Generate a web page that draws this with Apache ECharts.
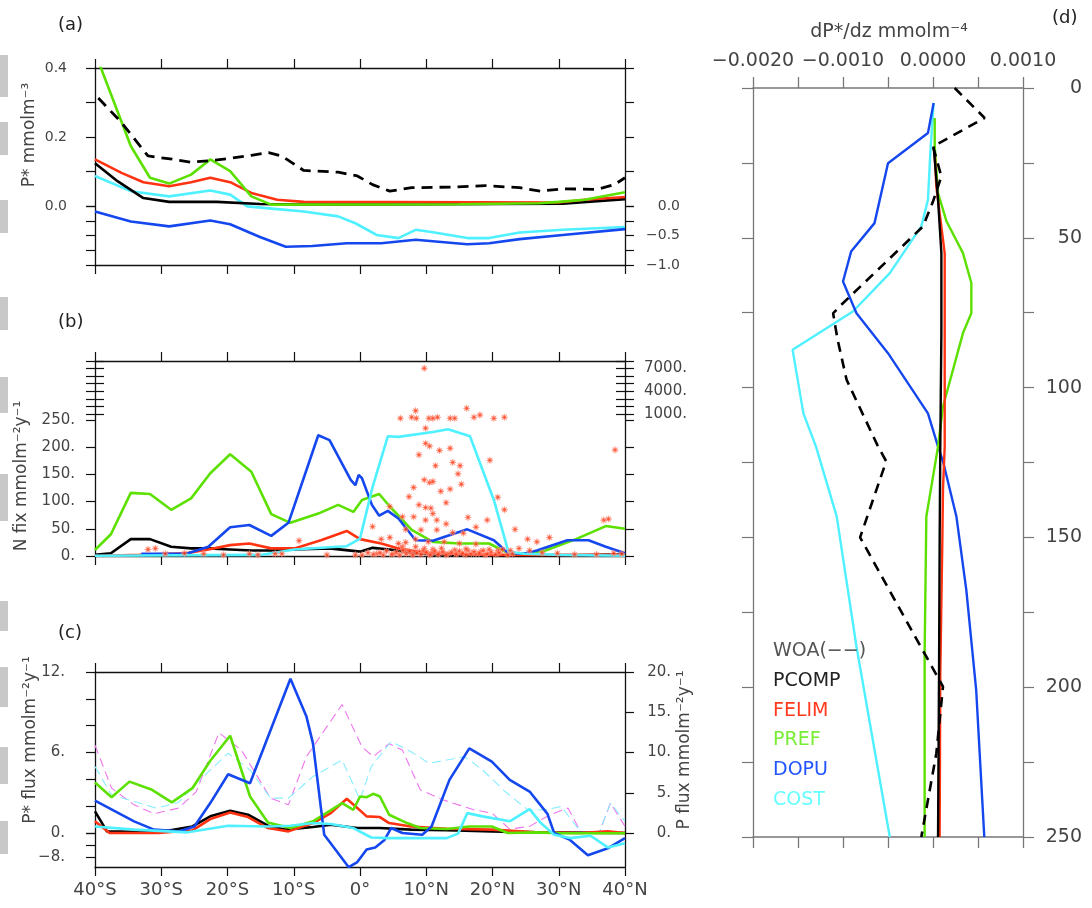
<!DOCTYPE html>
<html>
<head>
<meta charset="utf-8">
<title>P* / N fix / P flux</title>
<script src="https://cdn.jsdelivr.net/npm/echarts@6/dist/echarts.min.js"></script>
<style>
html, body { margin: 0; padding: 0; background: #fff; }
#chart { width: 1092px; height: 908px; }
</style>
</head>
<body>
<div id="chart"></div>
<script>
'use strict';

// latitude ticks and their labels
var latTicks = [-40, -30, -20, -10, 0, 10, 20, 30, 40];
var latLabels = ['40°S', '30°S', '20°S', '10°S', '0°', '10°N', '20°N', '30°N', '40°N'];

// model run names (legend of panel d)
var runNames = ['WOA(−−)', 'PCOMP', 'FELIM', 'PREF', 'DOPU', 'COST'];

// (a) P* mmol m-3, [lat, value]
var aWOA = [[-39.5, 0.313], [-36, 0.242], [-32, 0.145], [-28.1, 0.135], [-25.5, 0.127], [-22.9, 0.131], [-19.6, 0.138], [-16.4, 0.147], [-13.8, 0.155], [-11.8, 0.145], [-8.5, 0.103], [-3.3, 0.098], [-0.4, 0.087], [1.9, 0.062], [4.5, 0.043], [7.8, 0.053], [14.3, 0.055], [18.9, 0.059], [24.1, 0.053], [27.3, 0.043], [30.6, 0.05], [35.8, 0.048], [38.4, 0.062], [40, 0.082]];
var aPCOMP = [[-40, 0.124], [-36.6, 0.072], [-32.7, 0.023], [-28.8, 0.012], [-21.6, 0.012], [-15.1, 0.006], [-8.5, 0.004], [30.6, 0.007], [40, 0.02]];
var aFELIM = [[-40, 0.135], [-36, 0.096], [-32.7, 0.069], [-28.8, 0.057], [-25.5, 0.069], [-22.6, 0.082], [-19.6, 0.069], [-16.4, 0.038], [-12.5, 0.018], [-8.5, 0.012], [30, 0.01], [33.9, 0.018], [40, 0.026]];
var aPREF = [[-40, 0.445], [-34.6, 0.174], [-31.7, 0.082], [-28.8, 0.065], [-25.5, 0.091], [-22.6, 0.135], [-19.6, 0.101], [-16.4, 0.028], [-13.4, 0.004], [15, 0.005], [27, 0.008], [30, 0.012], [33.9, 0.018], [40, 0.04]];
var aDOPU = [[-40, -0.016], [-34.6, -0.045], [-28.8, -0.059], [-22.6, -0.042], [-19.6, -0.053], [-15.1, -0.09], [-11.2, -0.118], [-7.2, -0.116], [-2, -0.108], [3.2, -0.108], [8.4, -0.098], [16.2, -0.111], [19.5, -0.108], [24.1, -0.096], [30.6, -0.084], [40, -0.067]];
var aCOST = [[-40, 0.087], [-34.6, 0.043], [-28.8, 0.028], [-22.6, 0.045], [-19.6, 0.033], [-17, -0.001], [-12.5, -0.009], [-8.5, -0.016], [-3.3, -0.03], [-0.7, -0.05], [2.5, -0.084], [5.8, -0.093], [8.4, -0.069], [11, -0.076], [16.2, -0.093], [19.5, -0.093], [24.1, -0.077], [30.6, -0.069], [40, -0.061]];

// (b) N fix mmol m-2 y-1
var bPCOMP = [[-40, 2], [-37.6, 5], [-34.6, 31], [-31.7, 31], [-28.5, 17], [-25.5, 14], [-22.9, 14], [-19.6, 12], [-16.4, 10], [-13.4, 10], [-9.9, 12], [-4.6, 14], [0, 8], [1.9, 15], [4.5, 12], [8.4, 5], [13.6, 1], [22.4, 0], [30.6, 1], [40, 3]];
var bFELIM = [[-40, 0], [-33.3, 2], [-26.2, 5], [-22.9, 12], [-19.6, 20], [-16.7, 23], [-13.4, 14], [-9.9, 14], [-5.9, 29], [-2, 46], [0, 31], [3.2, 23], [5.8, 14], [9.7, 6], [13.6, 4], [20.2, 2], [30.6, 2], [40, 2]];
var bPREF = [[-40, 11], [-37.6, 40], [-34.6, 116], [-31.7, 114], [-28.5, 85], [-25.5, 106], [-22.6, 152], [-19.6, 187], [-16.4, 155], [-13.4, 77], [-10.5, 61], [-6.3, 78], [-3.3, 94], [-1, 81], [0.3, 103], [2.9, 114], [4.5, 91], [7.8, 48], [11, 26], [15, 23], [19.5, 23], [22.4, 5], [24.7, 4], [28, 10], [32.6, 31], [37.1, 55], [40, 50]];
var bDOPU = [[-33, 4], [-26.2, 4], [-22.9, 17], [-19.6, 53], [-16.7, 57], [-13.4, 37], [-10.8, 61], [-6.3, 222], [-4.6, 213], [-1.4, 140], [-0.7, 130], [-0.2, 149], [0.3, 143], [1.8, 94], [2.9, 74], [4.2, 83], [5.8, 69], [8.4, 29], [11, 28], [16.2, 49], [20.2, 29], [22.4, 5], [24.7, 4], [26.7, 10], [31.3, 29], [34.5, 29], [37.1, 17], [40, 5]];
var bCOST = [[-40, 0.5], [-15, 2], [-9.9, 12], [-4.6, 16], [-2, 18], [0, 32], [1.9, 127], [4.2, 220], [5.8, 219], [11, 228], [13.3, 233], [16.6, 220], [20.2, 103], [22.4, 8], [24.7, 4], [30.6, 2], [40, 0.5]];
// observations up to 250, and above 250 (upper, compressed part of the axis)
var bObsLow = [[9.9, 235], [9.9, 207], [10.5, 202], [12, 194], [13.6, 198], [8.9, 186], [11.4, 166], [14, 172], [15.1, 166], [19.6, 176], [14.8, 151], [9.7, 140], [10.5, 135], [11, 137], [15.3, 132], [13.6, 123], [12.2, 119], [8.1, 126], [7.4, 109], [20.8, 108], [8.9, 94], [13, 98], [4.5, 91], [9.9, 89], [10.7, 88], [21.8, 85], [11, 78], [6.4, 72], [8.1, 72], [9.9, 66], [11.6, 66], [13, 59], [16.3, 71], [19.2, 66], [1.9, 54], [6.9, 49], [9.2, 48], [11.6, 48], [17.5, 53], [23.4, 49], [36.8, 66], [37.5, 68], [38.5, 195], [14, 43], [15.6, 42], [4.5, 34], [3.2, 31], [-9.2, 28], [25.3, 31], [26.7, 26], [28.6, 34], [8.4, 31], [10.3, 26], [12.7, 26], [15, 23], [17.5, 22], [6.9, 25], [5.8, 23], [6.4, 17], [8.4, 17], [9.7, 14], [11, 12], [12.3, 14], [14.3, 11], [16.3, 10], [18.2, 8], [19.5, 12], [20.8, 10], [22.7, 10], [24, 14], [25.6, 10], [27.5, 6], [29.8, 5], [32.4, 3], [35.7, 3], [38.3, 5], [39.5, 4], [-32, 12], [-30.9, 14], [-29.4, 4], [-26.5, 5], [-23.6, 4], [-20.6, 2], [-16.7, 4], [-15.4, 2], [-12.8, 4], [-11.8, 4], [-5, 2], [-0.7, 2], [0.3, 2], [1.2, 6], [2.5, 4], [3.5, 2], [5.1, 4], [6.7, 8], [7.7, 5], [9, 8], [10.3, 4], [11, 6], [12, 5], [13.3, 4], [14.6, 5], [15.9, 2], [17.5, 4], [18.9, 2],
	[2, 3], [3, 6], [4, 9], [4.8, 3], [5.5, 7], [6, 2], [6.5, 11], [7, 4], [7.5, 9], [8, 2], [8.6, 6], [9.2, 3], [9.6, 10], [10, 7], [10.6, 2], [11.3, 9], [11.8, 3], [12.5, 8], [13, 2], [13.8, 7], [14.5, 3], [15, 9], [15.5, 5], [16, 13], [16.8, 4], [17.2, 8], [18, 5], [18.6, 10], [19.2, 4], [19.8, 7], [20.5, 3], [21, 6], [21.5, 12], [22.3, 2], [23, 4]];
var bObsHigh = [[6.1, 477], [7.8, 610], [8.5, 477], [10.4, 477], [11, 477], [11.7, 610], [13.6, 477], [14.3, 477], [17.2, 610], [20.2, 477], [21.8, 610], [8.4, 1490], [16.1, 1810], [18.1, 917], [9.7, 7140]];

// (c) P* flux mmol m-2 y-1 (left axis)
var cPCOMP = [[-40, 1.61], [-38.2, 0.12], [-30.4, 0.05], [-25.3, 0.49], [-22.6, 1.24], [-19.6, 1.66], [-16.9, 1.36], [-13.9, 0.54], [-11.2, 0.25], [-7.1, 0.45], [-4.4, 0.62], [-0.4, 0.37], [3, 0.37], [7.7, 0.25], [13.1, 0.2], [19.9, 0.12], [26.6, 0.05], [40, 0]];
var cFELIM = [[-40, 0.87], [-37.8, 0], [-30.4, 0], [-25.3, 0.2], [-22.6, 1.04], [-19.6, 1.53], [-16.9, 1.19], [-13.9, 0.37], [-10.8, 0.12], [-7.1, 0.74], [-4.4, 1.48], [-2, 2.55], [-0.4, 1.86], [1, 1.24], [3, 1.19], [4.4, 0.74], [7.7, 0.49], [13.1, 0.32], [19.9, 0.25], [26.6, 0.05], [33.4, 0], [37.4, 0.12], [40, 0]];
var cPREF = [[-40, 3.76], [-37.5, 2.67], [-34.8, 3.83], [-31.4, 3.22], [-28.4, 2.28], [-25.3, 3.34], [-22.6, 5.39], [-19.6, 7.25], [-16.6, 2.72], [-13.9, 0.79], [-10.5, 0.37], [-7.1, 0.87], [-2.7, 2.23], [-1, 1.73], [0, 2.72], [1, 2.67], [2, 2.92], [3, 2.72], [4.4, 1.36], [7.1, 0.74], [9.1, 0.37], [13.1, 0.3], [16.5, 0.49], [19.9, 0.49], [22.3, 0], [26.6, 0.05], [30, -0.05], [33.4, -0.07], [40, -0.1]];
var cDOPU = [[-40, 2.42], [-34.1, 0.87], [-31.1, 0.25], [-27.4, 0.12], [-25, 0.49], [-22.6, 2.23], [-19.9, 4.38], [-16.6, 3.71], [-10.5, 11.5], [-8.1, 8.71], [-7.1, 6.68], [-5.4, -0.57], [-1.7, -11.4], [-0.4, -9.7], [1, -5.5], [2.3, -4.8], [3.7, -2.3], [4.7, 0.37], [6.4, 0], [9.4, -0.57], [10.8, 0.49], [13.5, 3.96], [16.5, 6.31], [19.9, 5.32], [22.6, 3.96], [25.6, 3.09], [28.3, 1.43], [29.3, 0], [31.7, -2.3], [34.4, -7.4], [37.4, -5.1], [40, -1.7]];
var cCOST = [[-40, 0.49], [-34.1, 0.25], [-26, 0.05], [-19.9, 0.54], [-13.9, 0.49], [-10.5, 0.54], [-7.1, 0.74], [-4.4, 0.67], [-1, 0.37], [1.7, -1.5], [4.4, -1.7], [9.8, -1.7], [13.1, -1.7], [14.8, -0.2], [16.2, 1.48], [18.5, 1.24], [22.6, 0.87], [25.6, 1.78], [27.3, 0.74], [29.3, -0.57], [31.7, -1.7], [34.8, -0.9], [37.4, -4.8], [40, -3.4]];
// (c) P flux mmol m-2 y-1 (right axis, dashed)
var cPfluxM = [[-40, 10.9], [-37.5, 5.57], [-34.1, 3.5], [-31.1, 2.39], [-27.4, 3.09], [-24.7, 5.15], [-21.3, 12.45], [-17.9, 10.3], [-13.5, 4.33], [-10.8, 3.5], [-8.1, 9.48], [-2.7, 15.96], [0.3, 10.7], [2, 9.48], [4.4, 11.1], [6.4, 10.3], [9.1, 5.36], [12.5, 4.12], [17.2, 2.89], [19.9, 2.47], [22.6, 0.49], [25.6, 0.82], [28.7, 2.27], [31.4, 3.09], [33.4, 0], [36.1, 0], [37.8, 3.71], [40, 0.82]];
var cPfluxC = [[-40, 8.25], [-37.5, 4.74], [-34.1, 3.92], [-30.7, 3.09], [-27.4, 3.79], [-24.7, 6.19], [-19.9, 9.9], [-16.6, 7.84], [-13.5, 4.33], [-10.8, 4.33], [-7.1, 7.01], [-2.7, 9.07], [0, 4.12], [1.7, 8.25], [4.7, 11.34], [7.7, 10.1], [10.4, 8.66], [13.1, 9.07], [15.8, 9.48], [18.5, 7.84], [21.9, 5.15], [25.3, 2.89], [28, 2.89], [30.4, 3.3], [33.4, 0], [36.1, 0], [37.8, 3.71], [40, 1.44]];

// (d) dP*/dz mmol m-4 against depth m, [value, depth]
var dWOA = [[0.000241, 0], [0.000574, 10], [0, 19.5], [0.000093, 29.5], [0, 37.9], [-0.000111, 46.2], [-0.00102, 72.4], [-0.00111, 75.2], [-0.00106, 84], [-0.00096, 97.4], [-0.00061, 119.7], [-0.00052, 124.6], [-0.00081, 150], [-0.00026, 179.8], [0.000111, 199.8], [0.000037, 222.1], [-0.00013, 250]];
var dPCOMP = [[0.000007, 19.5], [0.000056, 37.3], [0.000093, 55.1], [0.000093, 81.8], [0.000081, 119.7], [0.000074, 150.8], [0.000067, 195.4], [0.000056, 250]];
var dFELIM = [[0.000019, 21.7], [0.000037, 32.9], [0.00013, 55.1], [0.00013, 81.8], [0.00013, 119.7], [0.000111, 134], [0.000104, 150.8], [0.000081, 195.4], [0.000074, 250]];
var dPREF = [[0.000019, 10], [0.000019, 19.5], [0.000056, 35.1], [0.00015, 44.5], [0.000333, 55.1], [0.000426, 65.1], [0.000426, 75.2], [0.000333, 81.8], [0.000111, 106.3], [0.000056, 119.7], [-0.000074, 143], [-0.000093, 188.7], [-0.000093, 250]];
var dDOPU = [[0.000007, 5], [-0.000056, 15], [-0.0005, 25.1], [-0.00065, 45.1], [-0.00091, 54.6], [-0.001, 64.6], [-0.00085, 75.2], [-0.0005, 88.5], [-0.000056, 108.6], [0.000056, 119.7], [0.000111, 124.6], [0.00026, 143], [0.00037, 167.5], [0.00048, 201], [0.00057, 250]];
var dCOST = [[0.000007, 5], [-0.00003, 21.7], [-0.000056, 37.3], [-0.00013, 46.2], [-0.00048, 61.8], [-0.00089, 74.6], [-0.00156, 87.4], [-0.00144, 108.6], [-0.0013, 119.7], [-0.00107, 143], [-0.00085, 186.5], [-0.00048, 250]];

var COL = {
	black: '#000',
	felim: '#ff3311',
	pref: '#5ce000',
	dopu: '#1447ee',
	cost: '#4ff0ff',
	fluxM: '#ee77ee',
	fluxC: '#88eeff'
};
var TXT = '#444';
var FONT = 'DejaVu Sans';

// panel (c): the part below zero is drawn compressed (broken axis)
var C_NEG = 3 / 13.417;
function brk(d) {
	return d.map(function (p) { return [p[0], p[1] < 0 ? p[1] * C_NEG : p[1]]; });
}

function minus(s) { return String(s).replace('-', '−'); }

function latAxis(gi, pos, labels) {
	return {
		type: 'value', gridIndex: gi, position: pos, min: -40, max: 40, interval: 10,
		axisLine: { show: true, onZero: false, lineStyle: { color: '#111', width: 1.3 } },
		axisTick: { show: true, inside: false, length: 9, lineStyle: { color: '#111', width: 1.2 } },
		axisLabel: {
			show: !!labels, margin: 14, fontSize: 18, color: TXT, fontFamily: FONT,
			showMinLabel: true, showMaxLabel: true,
			formatter: function (v) { return latLabels[latTicks.indexOf(Math.round(v))] || ''; }
		},
		splitLine: { show: false }
	};
}

function hiddenX(gi) {
	return { type: 'value', gridIndex: gi, show: false, min: 0, max: 1 };
}

function frameY(gi, pos, min, max) {
	return {
		type: 'value', gridIndex: gi, position: pos, min: min, max: max,
		axisLine: { show: true, onZero: false, lineStyle: { color: '#111', width: 1.3 } },
		axisTick: { show: false }, axisLabel: { show: false }, splitLine: { show: false }
	};
}

function tickY(gi, pos, min, max, interval, fmt, o) {
	o = o || {};
	var label = {
		show: !!fmt, margin: o.margin || 8, fontSize: o.size || 14, color: TXT, fontFamily: FONT,
		showMinLabel: true, showMaxLabel: true
	};
	if (fmt) label.formatter = fmt;
	if (o.align) label.align = o.align;
	return {
		type: 'value', gridIndex: gi, position: pos, min: min, max: max, interval: interval,
		inverse: !!o.inverse,
		axisLine: { show: !!o.line, onZero: false, lineStyle: { color: o.color || '#111', width: 1.3 } },
		axisTick: { show: true, inside: !!o.inside, length: o.len || 9, lineStyle: { color: o.color || '#111', width: 1.2 } },
		axisLabel: label,
		splitLine: { show: false }
	};
}

function line(name, data, color, xi, yi, o) {
	o = o || {};
	return {
		type: 'line', name: name, data: data, xAxisIndex: xi, yAxisIndex: yi,
		symbol: 'none', silent: true, animation: false, z: o.z || 3,
		lineStyle: { color: color, width: o.width || 2.6, type: o.dash || 'solid' }
	};
}

function grid(left, top, width, height) {
	return { left: left, top: top, width: width, height: height, containLabel: false, outerBoundsMode: 'none' };
}

var STAR = 'path://M6,3L4.02,3.42L5.12,5.12L3.42,4.02L3,6L2.58,4.02L0.88,5.12L1.98,3.42L0,3L1.98,2.58L0.88,0.88L2.58,1.98L3,0L3.42,1.98L5.12,0.88L4.02,2.58Z';

function stars(data, xi, yi) {
	return {
		type: 'scatter', data: data, xAxisIndex: xi, yAxisIndex: yi, silent: true, animation: false,
		symbol: STAR, symbolSize: 7, z: 5,
		itemStyle: { color: '#ff2a00', borderColor: '#ff9a8a', borderWidth: 0.6 }
	};
}

function txt(x, y, s, size, color, o) {
	o = o || {};
	return {
		type: 'text', x: x, y: y, rotation: o.rot || 0, silent: true, z: 10,
		style: {
			text: s, font: (size) + 'px "' + FONT + '"', fill: color,
			textAlign: o.align || 'left', textVerticalAlign: 'middle'
		}
	};
}

// grey scraps at the left edge of the scan
var scraps = [[55, 97], [122, 155], [200, 233], [297, 330], [377, 413], [474, 521], [601, 631], [667, 707], [747, 784], [821, 854]].map(function (r) {
	return { type: 'rect', silent: true, shape: { x: 0, y: r[0], width: 8, height: r[1] - r[0] }, style: { fill: '#c8c8c8' } };
});

var legendColors = ['#555', '#222', '#ff3b1f', '#77ee33', '#2255ff', '#66ffff'];
var legendTexts = runNames.map(function (n, i) {
	return txt(773, 651 + i * 29.8, n, 19, legendColors[i]);
});

function loadChart() {
	var chart = echarts.init(document.getElementById('chart'), null, { renderer: 'canvas' });

	var option = {
		backgroundColor: '#fff',
		animation: false,
		grid: [
			grid(95, 68, 530, 197),   // 0 a
			grid(95, 68, 530, 138),   // 1 a, upper ticks
			grid(95, 206, 530, 59),   // 2 a, lower ticks
			grid(95, 361, 530, 195),  // 3 b
			grid(95, 420, 530, 136),  // 4 b, 0-250
			grid(95, 361, 530, 53),   // 5 b, 1000-8000
			grid(95, 672, 530, 195),  // 6 c
			grid(95, 672, 530, 161),  // 7 c, positive part
			grid(95, 833, 530, 24),   // 8 c, negative part
			grid(753, 88, 270, 749)   // 9 d
		],
		xAxis: [
			latAxis(0, 'bottom', false),
			latAxis(0, 'top', false),
			hiddenX(1),
			hiddenX(2),
			latAxis(3, 'bottom', false),
			latAxis(3, 'top', false),
			hiddenX(4),
			hiddenX(5),
			latAxis(6, 'bottom', true),
			latAxis(6, 'top', false),
			hiddenX(7),
			hiddenX(8),
			{
				type: 'value', gridIndex: 9, position: 'top', min: -0.002, max: 0.001, interval: 0.0005,
				axisLine: { show: true, onZero: false, lineStyle: { color: '#777', width: 1.5 } },
				axisTick: { show: true, length: 11, lineStyle: { color: '#777', width: 1.3 } },
				axisLabel: {
					margin: 17, fontSize: 19, color: TXT, fontFamily: FONT, showMinLabel: true, showMaxLabel: true,
					formatter: function (v) {
						var r = Math.round(v * 10000);
						if (r % 10 !== 0) return '';
						if (r === 0) return '0.0000';
						return minus((r / 10000).toFixed(4));
					}
				},
				splitLine: { show: false }
			},
			{
				type: 'value', gridIndex: 9, position: 'bottom', min: -0.002, max: 0.001, interval: 0.0005,
				axisLine: { show: true, onZero: false, lineStyle: { color: '#777', width: 1.5 } },
				axisTick: { show: true, length: 11, lineStyle: { color: '#777', width: 1.3 } },
				axisLabel: { show: false }, splitLine: { show: false }
			}
		],
		yAxis: [
			frameY(0, 'left', -0.171, 0.4),                                   // 0
			frameY(0, 'right', -0.171, 0.4),                                  // 1
			tickY(1, 'left', 0, 0.4, 0.1, function (v) {                      // 2
				var r = Math.round(v * 10);
				return r % 2 === 0 ? (r / 10).toFixed(1) : '';
			}, { margin: 28 }),
			tickY(1, 'right', 0, 0.4, 0.1),                                   // 3
			tickY(2, 'left', -1, 0, 0.25),                                    // 4
			tickY(2, 'right', -1, 0, 0.25, function (v) {                     // 5
				var r = Math.round(v * 4);
				if (r % 2 !== 0) return '';
				return r === 0 ? '0.0' : minus((r / 4).toFixed(1));
			}, { margin: 55, align: 'right' }),
			frameY(3, 'left', 0, 358.46),                                     // 6
			frameY(3, 'right', -17883, 8117),                                 // 7
			tickY(4, 'left', 0, 250, 50, function (v) { return v + '.'; }, { margin: 20, size: 15 }), // 8
			tickY(4, 'right', 0, 250, 50),                                    // 9
			tickY(5, 'left', 1000, 8000, 1000),                               // 10
			tickY(5, 'left', 1000, 8000, 1000, null, { inside: true }),       // 11
			tickY(5, 'right', 1000, 8000, 1000, function (v) {                // 12
				var r = Math.round(v);
				return (r === 1000 || r === 4000 || r === 7000) ? r + '.' : '';
			}, { margin: 19, align: 'left', size: 15 }),
			tickY(5, 'right', 1000, 8000, 1000, null, { inside: true }),      // 13
			frameY(6, 'left', -2.534, 12),                                    // 14
			frameY(6, 'right', -4.224, 20),                                   // 15
			tickY(7, 'left', 0, 12, 2, function (v) {                         // 16
				return Math.round(v) % 6 === 0 ? Math.round(v) + '.' : '';
			}, { margin: 30, size: 15 }),
			tickY(7, 'right', 0, 20, 5, function (v) { return Math.round(v) + '.'; }, { margin: 46, align: 'right', size: 15 }), // 17
			tickY(8, 'left', -8, 0, 4, function (v) {                         // 18
				return Math.round(v) === -8 ? '−8.' : '';
			}, { margin: 30, size: 15 }),
			tickY(9, 'right', 0, 250, 25, function (v) {                      // 19
				return Math.round(v) % 50 === 0 ? String(Math.round(v)) : '';
			}, { inverse: true, line: true, color: '#777', margin: 59, align: 'right', size: 19, len: 11 }),
			tickY(9, 'left', 0, 250, 25, null, { inverse: true, line: true, color: '#777', len: 11 }) // 20
		],
		series: [
			// (a)
			line('COST', aCOST, COL.cost, 0, 0),
			line('DOPU', aDOPU, COL.dopu, 0, 0),
			line('PCOMP', aPCOMP, COL.black, 0, 0),
			line('FELIM', aFELIM, COL.felim, 0, 0),
			line('PREF', aPREF, COL.pref, 0, 0),
			line('WOA', aWOA, COL.black, 0, 0, { width: 2.8, dash: [11, 7], z: 4 }),
			// (b)
			line('PCOMP', bPCOMP, COL.black, 4, 6),
			line('FELIM', bFELIM, COL.felim, 4, 6),
			line('PREF', bPREF, COL.pref, 4, 6),
			line('DOPU', bDOPU, COL.dopu, 4, 6),
			line('COST', bCOST, COL.cost, 4, 6),
			stars(bObsLow, 4, 6),
			stars(bObsHigh, 4, 7),
			// (c)
			line('P flux 1', cPfluxM, COL.fluxM, 8, 15, { width: 1.1, dash: [9, 5], z: 2 }),
			line('P flux 2', cPfluxC, COL.fluxC, 8, 15, { width: 1.1, dash: [9, 5], z: 2 }),
			line('PCOMP', brk(cPCOMP), COL.black, 8, 14),
			line('FELIM', brk(cFELIM), COL.felim, 8, 14),
			line('PREF', brk(cPREF), COL.pref, 8, 14),
			line('DOPU', brk(cDOPU), COL.dopu, 8, 14),
			line('COST', brk(cCOST), COL.cost, 8, 14),
			// (d)
			line('COST', dCOST, COL.cost, 12, 19, { width: 2.4 }),
			line('DOPU', dDOPU, COL.dopu, 12, 19, { width: 2.4 }),
			line('PREF', dPREF, COL.pref, 12, 19, { width: 2.4 }),
			line('FELIM', dFELIM, COL.felim, 12, 19, { width: 2.4 }),
			line('PCOMP', dPCOMP, COL.black, 12, 19, { width: 2.4 }),
			line('WOA', dWOA, COL.black, 12, 19, { width: 2.6, dash: [10, 7], z: 4 })
		],
		graphic: scraps.concat(legendTexts).concat([
			txt(58, 25, '(a)', 18, '#222'),
			txt(58, 322, '(b)', 18, '#222'),
			txt(58, 633, '(c)', 18, '#222'),
			txt(1052, 18, '(d)', 18, '#222'),
			txt(30, 135, 'P* mmolm⁻³', 17, TXT, { rot: Math.PI / 2, align: 'center' }),
			txt(22, 476, 'N fix mmolm⁻²y⁻¹', 17, TXT, { rot: Math.PI / 2, align: 'center' }),
			txt(31, 740, 'P* flux mmolm⁻²y⁻¹', 17, TXT, { rot: Math.PI / 2, align: 'center' }),
			txt(685, 750, 'P flux mmolm⁻²y⁻¹', 17, TXT, { rot: Math.PI / 2, align: 'center' }),
			txt(889, 32, 'dP*/dz mmolm⁻⁴', 19, TXT, { align: 'center' })
		])
	};

	chart.setOption(option);
	return chart;
}

loadChart();
</script>
</body>
</html>
